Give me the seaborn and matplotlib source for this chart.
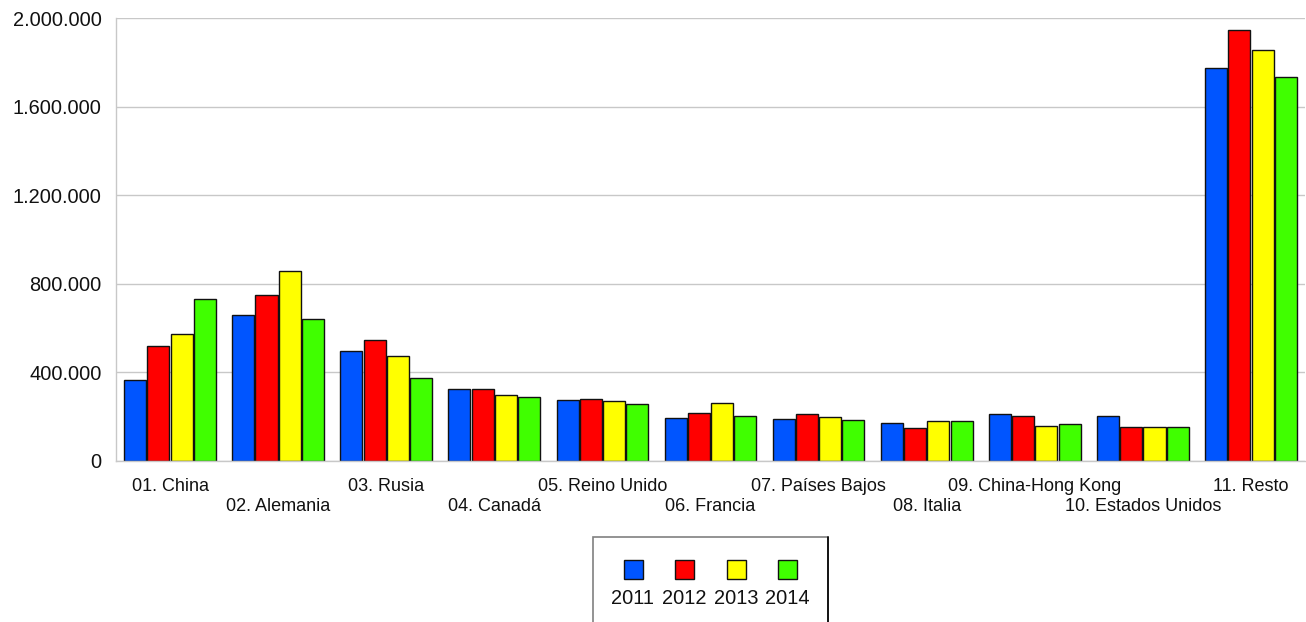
import pandas as pd
import numpy as np
import matplotlib
matplotlib.use('Agg')
import matplotlib.pyplot as plt
import seaborn as sns
from matplotlib.patches import Rectangle
from matplotlib.lines import Line2D
from matplotlib.ticker import FuncFormatter

sns.set_style('white')
plt.rcParams['font.family'] = ['Liberation Sans', 'DejaVu Sans']

W, H = 1306, 622

countries = ['01. China', '02. Alemania', '03. Rusia', '04. Canadá', '05. Reino Unido',
             '06. Francia', '07. Países Bajos', '08. Italia', '09. China-Hong Kong',
             '10. Estados Unidos', '11. Resto']
years = ['2011', '2012', '2013', '2014']

v2011 = [367000, 658000, 495000, 325000, 275000, 194000, 190000, 173000, 214000, 201000, 1774000]
v2012 = [521000, 748000, 545000, 325000, 280000, 217000, 212000, 148000, 205000, 155000, 1946000]
v2013 = [575000, 857000, 473000, 297000, 270000, 262000, 199000, 181000, 156000, 153000, 1856000]
v2014 = [730000, 643000, 376000, 289000, 257000, 205000, 185000, 179000, 167000, 155000, 1735000]

colors = ['#0055ff', '#ff0000', '#ffff00', '#40ff00']

df = pd.DataFrame({
    'pais': countries * 4,
    'anio': np.repeat(years, len(countries)),
    'valor': v2011 + v2012 + v2013 + v2014,
})

fig = plt.figure(figsize=(W / 100, H / 100), dpi=100)
ax = fig.add_axes([116 / W, 1 - 461 / H, (1305 - 116) / W, (461 - 18) / H])

sns.barplot(data=df, x='pais', y='valor', hue='anio', order=countries, hue_order=years,
            palette=colors, saturation=1, width=0.86, gap=0.05, edgecolor='#111111',
            linewidth=1.0, legend=False, ax=ax)

ax.set_ylim(0, 2000000)
ax.set_xlim(-0.5, len(countries) - 0.5)
ax.set_yticks(range(0, 2000001, 400000))
ax.yaxis.set_major_formatter(FuncFormatter(lambda v, p: f'{int(v):,}'.replace(',', '.')))
ax.yaxis.grid(True, color='#c8c8c8', linewidth=1.0)
ax.set_axisbelow(True)
ax.set_xlabel('')
ax.set_ylabel('')
for s in ['top', 'right']:
    ax.spines[s].set_visible(False)
for s in ['left', 'bottom']:
    ax.spines[s].set_color('#c8c8c8')
    ax.spines[s].set_linewidth(1.0)

ax.tick_params(axis='y', length=0, pad=10.5, labelsize=14.4, labelcolor='#111111')
ax.tick_params(axis='x', length=0, labelsize=13, labelcolor='#111111')
for i, tick in enumerate(ax.xaxis.get_major_ticks()):
    tick.set_pad(12 if i % 2 == 0 else 26.5)

# legend box drawn below the plot, markers above their year labels
def fx(x):
    return x / W

def fy(y):
    return 1 - y / H

fig.add_artist(Rectangle((fx(593), fy(640)), fx(828) - fx(593), fy(537) - fy(640),
                         transform=fig.transFigure, facecolor='white',
                         edgecolor='#808080', linewidth=1.2))
fig.add_artist(Line2D([fx(828), fx(828)], [fy(537), fy(640)], transform=fig.transFigure,
                      color='black', linewidth=1.2))
centers = [633, 684, 736, 787]
for cx, c, yr in zip(centers, colors, years):
    fig.add_artist(Rectangle((fx(cx - 9.5), fy(579)), 19 / W, 19 / H,
                             transform=fig.transFigure, facecolor=c,
                             edgecolor='#111111', linewidth=1.0))
    fig.text(fx(cx), fy(598), yr, ha='center', va='center', fontsize=14.4, color='#111111')

fig.savefig('out.png', dpi=100)
